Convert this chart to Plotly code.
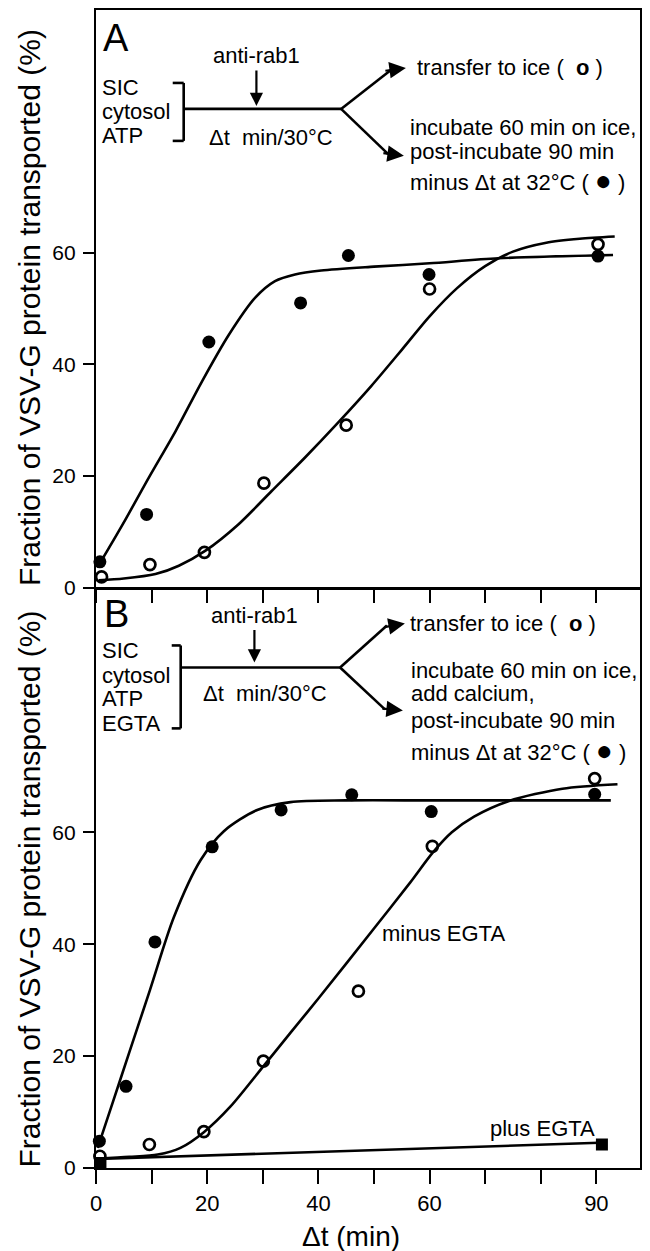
import plotly.graph_objects as go

# ---------------- data ----------------
# Panel A
A_T_OPEN = [1.0, 9.7, 19.5, 30.2, 45.0, 60.0, 90.3]
A_OPEN = [1.9, 4.1, 6.3, 18.7, 29.1, 53.5, 61.5]
A_T_FILLED = [0.7, 9.1, 20.3, 36.8, 45.4, 59.9, 90.3]
A_FILLED = [4.6, 13.1, 44.0, 51.0, 59.5, 56.1, 59.4]

A_FIT_FILLED_T = [0.5, 4.8, 9.5, 14.3, 19.1, 23.9, 28.6, 32.2, 35.8, 40.5, 50.0, 60.0, 72.4, 93.0]
A_FIT_FILLED = [4.0, 11.3, 19.7, 28.0, 37.0, 45.3, 51.9, 54.9, 56.1, 56.8, 57.5, 58.1, 59.0, 59.6]
A_FIT_OPEN_T = [0.5, 5.0, 10.7, 14.9, 19.7, 25.6, 31.6, 37.6, 43.5, 49.5, 55.0, 60.0, 65.0, 70.0, 75.0, 81.0, 87.0, 93.3]
A_FIT_OPEN = [1.3, 1.6, 2.4, 3.9, 6.6, 11.3, 17.3, 23.3, 29.5, 36.1, 42.6, 48.6, 53.7, 57.6, 60.2, 61.8, 62.5, 62.9]

# Panel B
B_T_OPEN = [0.7, 9.6, 19.4, 30.1, 47.2, 60.5, 89.7]
B_OPEN = [2.1, 4.2, 6.5, 19.1, 31.6, 57.5, 69.6]
B_T_FILLED = [0.6, 5.4, 10.6, 20.9, 33.3, 46.0, 60.3, 89.7]
B_FILLED = [4.8, 14.6, 40.4, 57.4, 64.0, 66.7, 63.7, 66.8]
B_T_PLUS = [0.8, 91.0]
B_PLUS = [0.9, 4.2]

B_FIT_FILLED_T = [0.3, 3.0, 6.0, 9.7, 14.0, 18.8, 23.0, 29.0, 35.0, 45.0, 60.0, 75.0, 92.6]
B_FIT_FILLED = [3.6, 11.7, 20.7, 31.8, 44.8, 55.0, 60.2, 64.0, 65.4, 65.7, 65.7, 65.7, 65.7]
B_FIT_OPEN_T = [0.3, 6.0, 11.1, 15.2, 19.4, 24.2, 30.2, 35.0, 40.0, 50.0, 56.5, 60.6, 64.0, 68.0, 74.3, 83.9, 93.8]
B_FIT_OPEN = [1.7, 2.0, 2.4, 3.6, 6.4, 11.0, 18.3, 24.2, 30.3, 42.8, 51.0, 56.4, 60.0, 62.8, 65.6, 67.8, 68.6]
B_FIT_PLUS_T = [0.3, 90.5]
B_FIT_PLUS = [1.6, 4.5]

X_TICKS = [0, 10, 20, 30, 40, 50, 60, 70, 80, 90]
X_TICK_TEXT = ["0", "", "20", "", "40", "", "60", "", "", "90"]
Y_TICKS = [0, 20, 40, 60]
Y_TICK_TEXT = ["0", "20", "40", "60"]

Y_TITLE = "Fraction of VSV-G protein transported (%)"
X_TITLE = "\u0394t (min)"

# ---------------- layout helpers ----------------
W, H = 650, 1251
L, R, T, B = 96, 8, 9, 83
PW, PH = W - L - R, H - T - B
FONT = "Liberation Sans, Arial, Helvetica, sans-serif"
BLACK = "black"


def px(X):
    return (X - L) / PW


def py(Y):
    return (H - B - Y) / PH


fig = go.Figure()


def curve(t, v, xa, ya):
    fig.add_trace(go.Scatter(x=t, y=v, mode="lines", xaxis=xa, yaxis=ya,
                             line=dict(color=BLACK, width=2.6, shape="spline", smoothing=0.8),
                             hoverinfo="skip", showlegend=False, cliponaxis=False))


def pts(t, v, xa, ya, kind):
    if kind == "open":
        m = dict(symbol="circle-open", size=11, color=BLACK, line=dict(width=2.7, color=BLACK))
    elif kind == "filled":
        m = dict(symbol="circle", size=13, color=BLACK, line=dict(width=0))
    else:
        m = dict(symbol="square", size=12, color=BLACK, line=dict(width=0))
    fig.add_trace(go.Scatter(x=t, y=v, mode="markers", xaxis=xa, yaxis=ya, marker=m,
                             showlegend=False, cliponaxis=False))


# Panel A
curve(A_FIT_FILLED_T, A_FIT_FILLED, "x", "y")
curve(A_FIT_OPEN_T, A_FIT_OPEN, "x", "y")
pts(A_T_OPEN, A_OPEN, "x", "y", "open")
pts(A_T_FILLED, A_FILLED, "x", "y", "filled")
# Panel B
curve(B_FIT_FILLED_T, B_FIT_FILLED, "x2", "y2")
curve(B_FIT_OPEN_T, B_FIT_OPEN, "x2", "y2")
curve(B_FIT_PLUS_T, B_FIT_PLUS, "x2", "y2")
pts(B_T_OPEN, B_OPEN, "x2", "y2", "open")
pts(B_T_FILLED, B_FILLED, "x2", "y2", "filled")
pts(B_T_PLUS, B_PLUS, "x2", "y2", "square")

axis_common = dict(showline=True, linecolor=BLACK, linewidth=2.2, mirror=True,
                   showgrid=False, zeroline=False, ticks="outside", tickwidth=2,
                   tickcolor=BLACK, tickfont=dict(family=FONT, size=22, color=BLACK))

X_RANGE = [0, 97.85]
fig.update_layout(
    width=W, height=H,
    margin=dict(l=L, r=R, t=T, b=B, pad=0),
    paper_bgcolor="white", plot_bgcolor="white",
    showlegend=False,
    font=dict(family=FONT, color=BLACK),
    xaxis=dict(axis_common, domain=[0, 1], range=X_RANGE, anchor="y",
               tickvals=X_TICKS, ticklen=13, showticklabels=False),
    yaxis=dict(axis_common, domain=[py(587), 1], range=[0, 103.5], anchor="x",
               tickvals=Y_TICKS, ticktext=Y_TICK_TEXT, ticklen=11, ticklabelstandoff=3,
               tickfont=dict(family=FONT, size=21, color=BLACK)),
    xaxis2=dict(axis_common, domain=[0, 1], range=X_RANGE, anchor="y2",
                tickvals=X_TICKS, ticktext=X_TICK_TEXT, ticklen=14),
    yaxis2=dict(axis_common, domain=[0, py(589)], range=[0, 103.4], anchor="x2",
                tickvals=Y_TICKS, ticktext=Y_TICK_TEXT, ticklen=11, ticklabelstandoff=3,
                tickfont=dict(family=FONT, size=21, color=BLACK)),
)

ann = []


def txt(X, Y, s, size=22, xanchor="left", angle=0):
    ann.append(dict(x=px(X), y=py(Y), xref="paper", yref="paper", text=s,
                    showarrow=False, xanchor=xanchor, yanchor="middle", textangle=angle,
                    font=dict(family=FONT, size=size, color=BLACK)))


def arrow(X, Y, ax, ay, size=1.2):
    ann.append(dict(x=px(X), y=py(Y), xref="paper", yref="paper", text="",
                    showarrow=True, ax=ax, ay=ay, arrowhead=2, arrowsize=size,
                    arrowwidth=2.2, arrowcolor=BLACK))


shapes = []


def seg(x0, y0, x1, y1, w=2.6):
    shapes.append(dict(type="line", xref="paper", yref="paper",
                       x0=px(x0), y0=py(y0), x1=px(x1), y1=py(y1),
                       line=dict(color=BLACK, width=w)))


OPEN_SYM = "(  <b>o</b> )"
FILL_SYM = "( <span style='font-size:28px'>\u25CF</span> )"
NB = "\u00a0"

# ----- Panel A scheme -----
txt(101, 37, "A", size=38)
txt(257, 55, "anti-rab1", xanchor="center")
arrow(257, 105, 0, -37)
txt(100, 87, "SIC")
txt(100, 111, "cytosol")
txt(100, 135, "ATP")
seg(173, 82, 184, 82)
seg(184, 82, 184, 140)
seg(173, 140, 184, 140)
seg(184, 108, 342, 108)
txt(272, 137, "\u0394t" + NB + NB + "min/30\u00b0C", xanchor="center")
seg(342, 108, 392, 69)
seg(342, 108, 389, 153)
arrow(407, 67, -22, 3, 1.5)
arrow(405, 155, -22, -3, 1.5)
txt(416, 67, "transfer to ice " + OPEN_SYM)
txt(409, 127, "incubate 60 min on ice,")
txt(409, 151, "post-incubate 90 min")
txt(409, 180, "minus \u0394t at 32\u00b0C " + FILL_SYM)

# ----- Panel B scheme -----
txt(102, 614, "B", size=38)
txt(255, 615, "anti-rab1", xanchor="center")
arrow(255, 662, 0, -34)
txt(100, 650, "SIC")
txt(100, 675, "cytosol")
txt(100, 698, "ATP")
txt(100, 723, "EGTA")
seg(172, 645, 181, 645)
seg(181, 645, 181, 728)
seg(172, 728, 181, 728)
seg(181, 667, 341, 667)
txt(266, 693, "\u0394t" + NB + NB + "min/30\u00b0C", xanchor="center")
seg(341, 667, 388, 625)
seg(341, 667, 386, 709)
arrow(406, 623, -22, 4, 1.5)
arrow(404, 710, -22, -2, 1.5)
txt(409, 623, "transfer to ice " + OPEN_SYM)
txt(410, 670, "incubate 60 min on ice,")
txt(410, 693, "add calcium,")
txt(410, 720, "post-incubate 90 min")
txt(410, 750, "minus \u0394t at 32\u00b0C " + FILL_SYM)

# curve labels
txt(381, 933, "minus EGTA")
txt(489, 1128, "plus EGTA")

# axis titles
txt(29, 307, Y_TITLE, size=30, xanchor="center", angle=-90)
txt(29, 889, Y_TITLE, size=30, xanchor="center", angle=-90)
txt(352, 1237, X_TITLE, size=28, xanchor="center")

fig.update_layout(annotations=ann, shapes=shapes)
fig.write_html("out.html")
